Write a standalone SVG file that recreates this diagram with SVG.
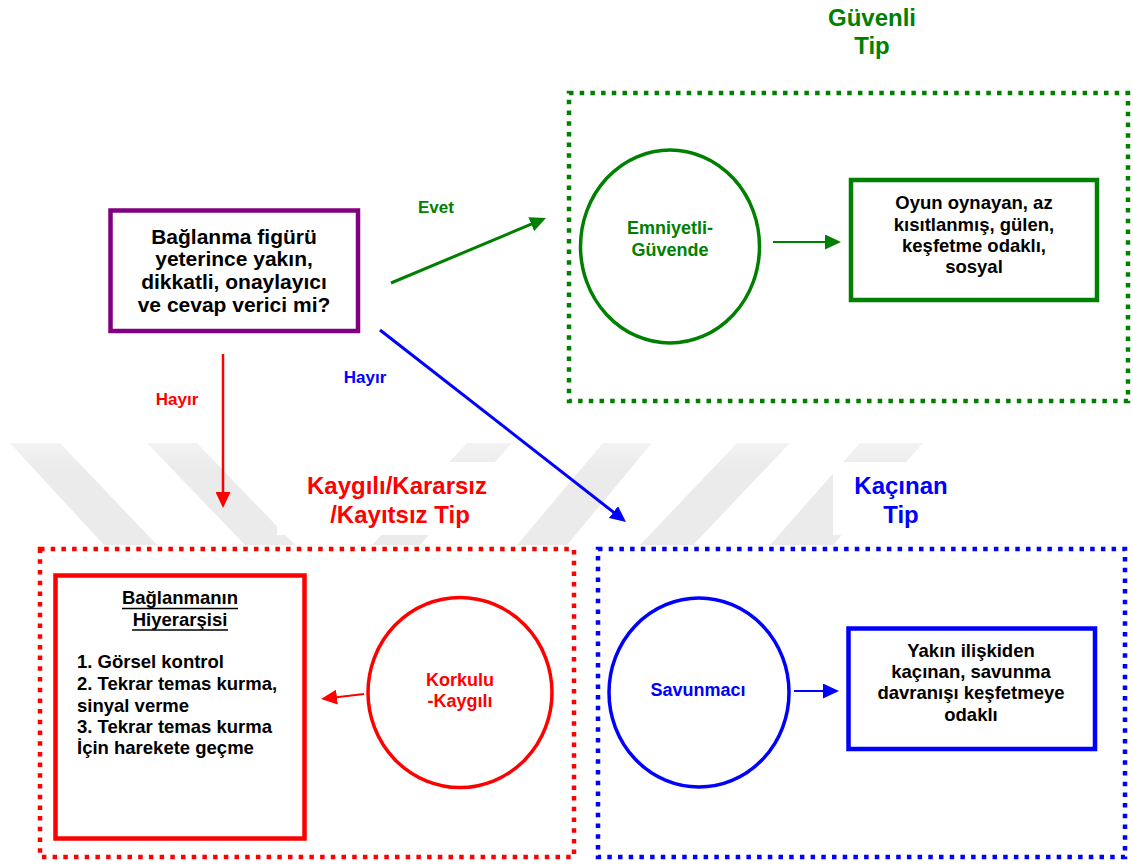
<svg xmlns="http://www.w3.org/2000/svg" width="1133" height="866" viewBox="0 0 1133 866">
  <style>
    text { font-family: "Liberation Sans", Arial, sans-serif; font-weight: bold; }
    .mid { text-anchor: middle; }
    .title { font-size: 24px; }
    .lbl { font-size: 17px; }
    .body { font-size: 18.5px; fill: #000; }
    .q { font-size: 21px; fill: #000; }
    .green { fill: #008000; }
    .red { fill: #ff0000; }
    .blue { fill: #0000ff; }
    .frame { fill: #fff; stroke-width: 4.5; stroke-dasharray: 4.5 6.2; }
    .box { fill: #fff; stroke-width: 4.5; }
    .ring { fill: #fff; stroke-width: 3.5; }
    .wm { fill: url(#wmfade); }
  </style>
  <defs>
    <linearGradient id="wmfade" x1="0" y1="443" x2="0" y2="545" gradientUnits="userSpaceOnUse">
      <stop offset="0" stop-color="#f3f3f3"/>
      <stop offset="0.25" stop-color="#ebebeb"/>
      <stop offset="1" stop-color="#ebebeb"/>
    </linearGradient>
    <marker id="ahGreen" markerUnits="userSpaceOnUse" markerWidth="16" markerHeight="15" refX="11" refY="7.5" orient="auto">
      <path d="M0,0 L16,7.5 L0,15 z" fill="#008000"/>
    </marker>
    <marker id="ahRed" markerUnits="userSpaceOnUse" markerWidth="16" markerHeight="15" refX="11" refY="7.5" orient="auto">
      <path d="M0,0 L16,7.5 L0,15 z" fill="#ff0000"/>
    </marker>
    <marker id="ahBlue" markerUnits="userSpaceOnUse" markerWidth="16" markerHeight="15" refX="11" refY="7.5" orient="auto">
      <path d="M0,0 L16,7.5 L0,15 z" fill="#0000ff"/>
    </marker>
  </defs>

  <rect x="0" y="0" width="1133" height="866" fill="#fff"/>

  <!-- faint background stripes -->
  <g id="watermark">
    <polygon class="wm" points="10,443 60,443 157,545 104,545"/>
    <polygon class="wm" points="147,443 197,443 295,545 245,545"/>
    <polygon class="wm" points="467,443 512,443 420,545 372,545"/>
    <polygon class="wm" points="603,443 652,443 567,545 517,545"/>
    <polygon class="wm" points="737,443 790,443 693,545 640,545"/>
    <polygon class="wm" points="860,443 923,443 833,545 770,545"/>
    <rect x="277" y="462" width="241" height="73" fill="#fff"/>
    <rect x="833" y="462" width="127" height="73" fill="#fff"/>
  </g>

  <!-- group titles -->
  <g id="title-guvenli">
    <text class="title green mid" x="872" y="26">Güvenli</text>
    <text class="title green mid" x="872" y="54">Tip</text>
  </g>
  <g id="title-kaygili">
    <text class="title red mid" x="397" y="494">Kaygılı/Kararsız</text>
    <text class="title red mid" x="400" y="523">/Kayıtsız Tip</text>
  </g>
  <g id="title-kacinan">
    <text class="title blue mid" x="901" y="494">Kaçınan</text>
    <text class="title blue mid" x="901" y="523">Tip</text>
  </g>

  <!-- dotted group frames -->
  <g id="frame-guvenli">
    <rect class="frame" x="569" y="93" width="559" height="308" stroke="#008000"/>
  </g>
  <g id="frame-kaygili">
    <rect class="frame" x="40" y="549" width="534" height="308" stroke="#ff0000"/>
  </g>
  <g id="frame-kacinan">
    <rect class="frame" x="598" y="549" width="527" height="308" stroke="#0000ff"/>
  </g>

  <!-- question -->
  <g id="question">
    <rect class="box" x="110.5" y="210.5" width="247.5" height="120.5" stroke="#800080"/>
    <text class="q mid" x="234" y="244">Bağlanma figürü</text>
    <text class="q mid" x="234" y="266">yeterince yakın,</text>
    <text class="q mid" x="234" y="289">dikkatli, onaylayıcı</text>
    <text class="q mid" x="234" y="312">ve cevap verici mi?</text>
  </g>

  <!-- secure -->
  <g id="emniyetli">
    <ellipse class="ring" cx="670" cy="246.5" rx="89.5" ry="96.5" stroke="#008000"/>
    <text class="green mid" font-size="18" x="670" y="234">Emniyetli-</text>
    <text class="green mid" font-size="18" x="670" y="256">Güvende</text>
  </g>
  <g id="guvenli-davranis">
    <rect class="box" x="851" y="180" width="246" height="120" stroke="#008000"/>
    <text class="body mid" x="974" y="209">Oyun oynayan, az</text>
    <text class="body mid" x="974" y="231">kısıtlanmış, gülen,</text>
    <text class="body mid" x="974" y="252">keşfetme odaklı,</text>
    <text class="body mid" x="974" y="273">sosyal</text>
  </g>

  <!-- anxious -->
  <g id="hiyerarsi">
    <rect class="box" x="55.5" y="575.5" width="249" height="263" stroke="#ff0000"/>
    <text class="body mid" x="180" y="604">Bağlanmanın</text>
    <text class="body mid" x="180" y="626">Hiyerarşisi</text>
    <line x1="122" y1="608.5" x2="238" y2="608.5" stroke="#000" stroke-width="1.5"/>
    <line x1="132" y1="630" x2="228" y2="630" stroke="#000" stroke-width="1.5"/>
    <text class="body" x="77" y="668">1. Görsel kontrol</text>
    <text class="body" x="77" y="690">2. Tekrar temas kurma,</text>
    <text class="body" x="77" y="712">sinyal verme</text>
    <text class="body" x="77" y="733">3. Tekrar temas kurma</text>
    <text class="body" x="77" y="754">İçin harekete geçme</text>
  </g>
  <g id="korkulu">
    <ellipse class="ring" cx="460" cy="692.5" rx="92" ry="95" stroke="#ff0000"/>
    <text class="red mid" font-size="18" x="460" y="686">Korkulu</text>
    <text class="red mid" font-size="18" x="460" y="707">-Kaygılı</text>
  </g>

  <!-- avoidant -->
  <g id="savunmaci">
    <ellipse class="ring" cx="699" cy="692.5" rx="90" ry="94.5" stroke="#0000ff"/>
    <text class="blue mid" font-size="18" x="698" y="696">Savunmacı</text>
  </g>
  <g id="kacinan-davranis">
    <rect class="box" x="848.5" y="628.5" width="246.5" height="120.5" stroke="#0000ff"/>
    <text class="body mid" x="971" y="657">Yakın ilişkiden</text>
    <text class="body mid" x="971" y="678">kaçınan, savunma</text>
    <text class="body mid" x="971" y="699">davranışı keşfetmeye</text>
    <text class="body mid" x="971" y="721">odaklı</text>
  </g>

  <!-- connectors -->
  <g id="connectors" fill="none">
    <line x1="391" y1="283" x2="541.4" y2="219.9" stroke="#008000" stroke-width="3" marker-end="url(#ahGreen)"/>
    <line x1="380" y1="330" x2="622.1" y2="518.9" stroke="#0000ff" stroke-width="3" marker-end="url(#ahBlue)"/>
    <line x1="223" y1="354" x2="223" y2="503" stroke="#ff0000" stroke-width="2.5" marker-end="url(#ahRed)"/>
    <line x1="773" y1="242" x2="836" y2="242" stroke="#008000" stroke-width="2" marker-end="url(#ahGreen)"/>
    <line x1="364" y1="694" x2="326" y2="698.4" stroke="#ff0000" stroke-width="2" marker-end="url(#ahRed)"/>
    <line x1="794" y1="691" x2="834" y2="691" stroke="#0000ff" stroke-width="2" marker-end="url(#ahBlue)"/>
    <text class="lbl green mid" x="436" y="213">Evet</text>
    <text class="lbl red mid" x="177" y="405">Hayır</text>
    <text class="lbl blue mid" x="365" y="383">Hayır</text>
  </g>
</svg>
